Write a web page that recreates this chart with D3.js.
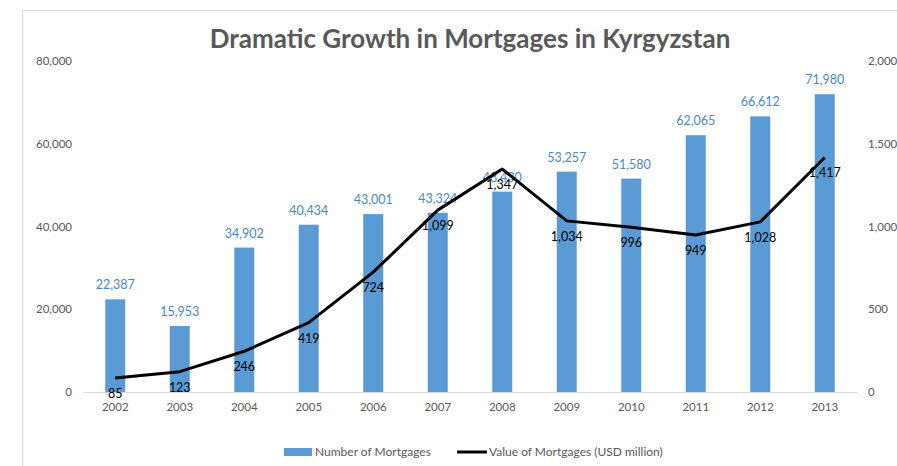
<!DOCTYPE html>
<html>
<head>
<meta charset="utf-8">
<script src="https://cdn.jsdelivr.net/npm/d3@7"></script>
<style>
  body { margin: 0; background: #fff; }
  text { font-family: Lato, "Open Sans", sans-serif; }
</style>
</head>
<body>
<svg id="chart"></svg>
<script>
var years = ["2002", "2003", "2004", "2005", "2006", "2007", "2008", "2009", "2010", "2011", "2012", "2013"]
var mortgageCount = [22387, 15953, 34902, 40434, 43001, 43324, 48430, 53257, 51580, 62065, 66612, 71980]
var mortgageValue = [85, 123, 246, 419, 724, 1099, 1347, 1034, 996, 949, 1028, 1417]
var leftTicks = [0, 20000, 40000, 60000, 80000]
var rightTicks = [0, 500, 1000, 1500, 2000]

var width = 897, height = 466
var svg = d3.select("#chart")
    .attr("width", width)
    .attr("height", height)

var margin = {left: 83, right: 40, top: 61, bottom: 74}
var plotRight = width - margin.right
var plotBottom = height - margin.bottom

// frame of the original chart area
svg.append("path")
    .attr("d", "M22.5," + height + "V10.5H" + width)
    .attr("fill", "none")
    .attr("stroke", "#d9d9d9")
    .attr("stroke-width", 1)

var x = d3.scaleBand()
    .domain(years)
    .range([margin.left, plotRight])
    .paddingInner(0.69)
    .paddingOuter(0.345)

var yLeft = d3.scaleLinear()
    .domain([0, 80000])
    .range([plotBottom, margin.top])

var yRight = d3.scaleLinear()
    .domain([0, 2000])
    .range([plotBottom, margin.top])

var fmt = d3.format(",")
var grey = "#595959"
var blue = "#5b9bd5"

svg.append("text")
    .attr("x", 470)
    .attr("y", 48)
    .attr("text-anchor", "middle")
    .attr("font-size", 26)
    .attr("font-weight", "bold")
    .attr("fill", grey)
    .text("Dramatic Growth in Mortgages in Kyrgyzstan")

// left axis
var leftAxis = svg.append("g")
    .attr("transform", "translate(" + (margin.left - 11) + ",0)")
    .call(d3.axisLeft(yLeft).tickValues(leftTicks).tickFormat(fmt).tickSize(0).tickPadding(0))
leftAxis.select(".domain").remove()

var rightAxis = svg.append("g")
    .attr("transform", "translate(" + (plotRight + 11) + ",0)")
    .call(d3.axisRight(yRight).tickValues(rightTicks).tickFormat(fmt).tickSize(0).tickPadding(0))
rightAxis.select(".domain").remove()

var bottomAxis = svg.append("g")
    .attr("transform", "translate(0," + plotBottom + ")")
    .call(d3.axisBottom(x).tickSize(0).tickPadding(11))
bottomAxis.select(".domain").attr("stroke", "#d9d9d9")

svg.selectAll(".tick text")
    .attr("fill", grey)
    .attr("font-size", 11.5)
    .style("font-family", "Lato, 'Open Sans', sans-serif")

var data = years.map(function(y, i) {
    return {year: y, count: mortgageCount[i], value: mortgageValue[i]}
})

svg.append("g")
    .selectAll("rect")
    .data(data)
    .enter()
    .append("rect")
    .attr("x", d => x(d.year))
    .attr("width", x.bandwidth())
    .attr("y", d => yLeft(d.count))
    .attr("height", d => plotBottom - yLeft(d.count))
    .attr("fill", blue)

svg.append("g")
    .selectAll("text")
    .data(data)
    .enter()
    .append("text")
    .attr("x", d => x(d.year) + x.bandwidth() / 2)
    .attr("y", d => yLeft(d.count) - 10)
    .attr("text-anchor", "middle")
    .attr("font-size", 12.5)
    .attr("fill", "#4a88c9")
    .text(d => fmt(d.count))

var line = d3.line()
    .x(d => x(d.year) + x.bandwidth() / 2)
    .y(d => yRight(d.value))

svg.append("path")
    .datum(data)
    .attr("d", line)
    .attr("fill", "none")
    .attr("stroke", "#000")
    .attr("stroke-width", 3)
    .attr("stroke-linejoin", "round")

svg.append("g")
    .selectAll("text")
    .data(data)
    .enter()
    .append("text")
    .attr("x", d => x(d.year) + x.bandwidth() / 2)
    .attr("y", d => yRight(d.value) + 20)
    .attr("text-anchor", "middle")
    .attr("font-size", 12.5)
    .attr("fill", "#000")
    .text(d => fmt(d.value))

// legend
var legend = svg.append("g")
legend.append("rect")
    .attr("x", 284)
    .attr("y", 448)
    .attr("width", 28)
    .attr("height", 8)
    .attr("fill", blue)
legend.append("text")
    .attr("x", 315)
    .attr("y", 456)
    .attr("font-size", 12)
    .attr("fill", grey)
    .text("Number of Mortgages")
legend.append("line")
    .attr("x1", 457)
    .attr("x2", 487)
    .attr("y1", 452)
    .attr("y2", 452)
    .attr("stroke", "#000")
    .attr("stroke-width", 3)
legend.append("text")
    .attr("x", 489)
    .attr("y", 456)
    .attr("font-size", 12)
    .attr("fill", grey)
    .text("Value of Mortgages (USD million)")
</script>
</body>
</html>
